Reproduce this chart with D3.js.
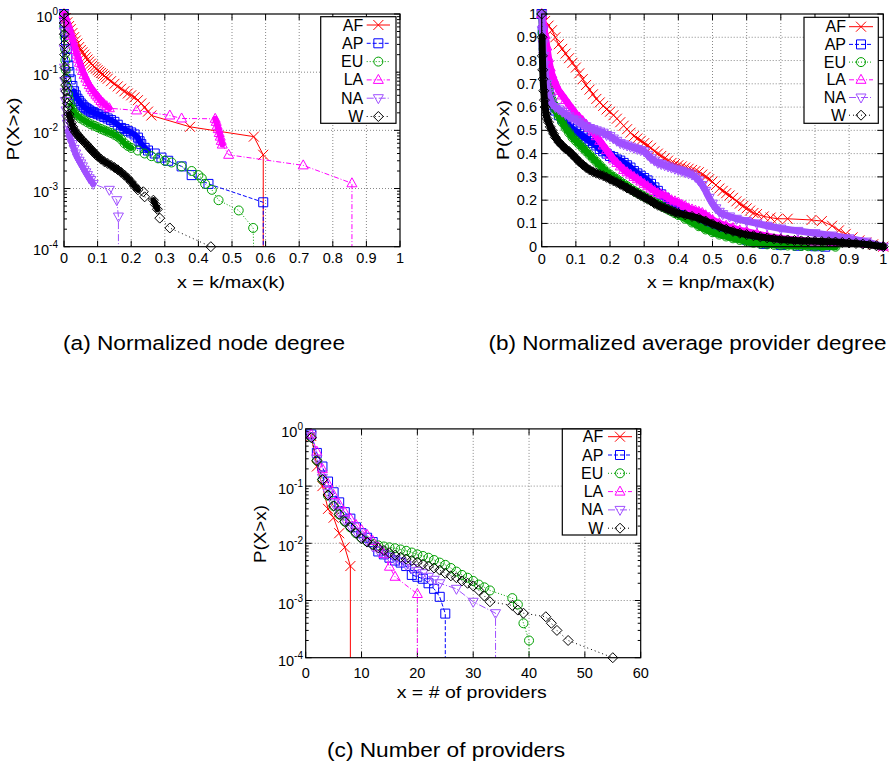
<!DOCTYPE html>
<html>
<head>
<meta charset="utf-8">
<script src="https://cdn.jsdelivr.net/npm/d3@7"></script>
<style>
  body { margin: 0; background: #fff; }
  text { font-family: "Liberation Sans", Arial, Helvetica, sans-serif; fill: #000; }
</style>
</head>
<body>
<script>
// ---- data ----
var regions = ["AF", "AP", "EU", "LA", "NA", "W"];

// (a) normalized node degree, x = k/max(k), P(X>x); 0 = curve drops off the log axis
var degAF = [[0,1],[0.005,0.85],[0.01,0.72],[0.015,0.62],[0.02,0.55],[0.025,0.47],[0.03,0.4],[0.035,0.35],[0.04,0.31],[0.045,0.27],[0.05,0.24],[0.055,0.22],[0.06,0.2],[0.065,0.18],[0.07,0.165],[0.075,0.152],[0.08,0.14],[0.085,0.13],[0.09,0.122],[0.095,0.115],[0.1,0.108],[0.105,0.102],[0.11,0.097],[0.115,0.092],[0.12,0.087],[0.125,0.082],[0.13,0.077],[0.14,0.07],[0.15,0.063],[0.16,0.057],[0.17,0.052],[0.18,0.047],[0.19,0.043],[0.2,0.04],[0.21,0.037],[0.22,0.033],[0.23,0.029],[0.24,0.025],[0.25,0.021],[0.26,0.018],[0.375,0.0115],[0.565,0.0078],[0.593,0.0038],[0.593,0]];
var degAP = [[0,1],[0.002,0.7],[0.004,0.5],[0.006,0.35],[0.008,0.25],[0.01,0.18],[0.013,0.13],[0.016,0.1],[0.02,0.075],[0.025,0.058],[0.03,0.047],[0.035,0.04],[0.04,0.035],[0.045,0.032],[0.05,0.029],[0.055,0.027],[0.06,0.025],[0.065,0.024],[0.07,0.023],[0.075,0.022],[0.08,0.021],[0.085,0.0205],[0.09,0.02],[0.1,0.019],[0.11,0.018],[0.12,0.017],[0.13,0.016],[0.14,0.015],[0.15,0.014],[0.16,0.0125],[0.17,0.011],[0.18,0.0105],[0.19,0.0098],[0.2,0.0092],[0.21,0.0085],[0.22,0.0075],[0.225,0.0065],[0.23,0.0058],[0.24,0.005],[0.25,0.0045],[0.27,0.004],[0.29,0.0034],[0.31,0.003],[0.35,0.0024],[0.38,0.0017],[0.43,0.0012],[0.593,0.00058],[0.593,0]];
var degEU = [[0,1],[0.001,0.6],[0.002,0.4],[0.003,0.25],[0.004,0.16],[0.005,0.11],[0.007,0.075],[0.009,0.055],[0.012,0.042],[0.015,0.034],[0.02,0.027],[0.025,0.023],[0.03,0.02],[0.04,0.018],[0.05,0.016],[0.06,0.0148],[0.07,0.0137],[0.08,0.0127],[0.09,0.012],[0.1,0.0113],[0.11,0.0106],[0.12,0.01],[0.13,0.0095],[0.14,0.009],[0.15,0.0084],[0.16,0.0078],[0.17,0.007],[0.18,0.006],[0.19,0.0054],[0.2,0.005],[0.22,0.0045],[0.24,0.004],[0.26,0.0036],[0.28,0.0033],[0.3,0.003],[0.32,0.0028],[0.35,0.0024],[0.38,0.002],[0.4,0.0017],[0.41,0.0015],[0.42,0.0012],[0.44,0.00095],[0.46,0.00063],[0.52,0.00042],[0.563,0.00021],[0.567,0]];
var degLA = [[0,1],[0.003,0.9],[0.006,0.8],[0.01,0.7],[0.014,0.6],[0.018,0.5],[0.022,0.42],[0.026,0.35],[0.03,0.29],[0.034,0.24],[0.038,0.2],[0.042,0.17],[0.046,0.145],[0.05,0.125],[0.055,0.105],[0.06,0.09],[0.065,0.078],[0.07,0.068],[0.075,0.06],[0.08,0.054],[0.085,0.049],[0.09,0.045],[0.095,0.041],[0.1,0.038],[0.105,0.035],[0.11,0.032],[0.115,0.03],[0.12,0.028],[0.127,0.026],[0.135,0.024],[0.216,0.022],[0.315,0.018],[0.35,0.016],[0.45,0.0158],[0.453,0.014],[0.456,0.012],[0.459,0.0105],[0.462,0.009],[0.465,0.0078],[0.468,0.0066],[0.471,0.0057],[0.49,0.0038],[0.712,0.0025],[0.857,0.00123],[0.857,0]];
var degNA = [[0,1],[0.0005,0.5],[0.001,0.25],[0.0015,0.12],[0.002,0.07],[0.003,0.045],[0.004,0.032],[0.006,0.022],[0.008,0.016],[0.01,0.013],[0.013,0.01],[0.016,0.0085],[0.02,0.007],[0.025,0.0058],[0.03,0.0048],[0.035,0.004],[0.04,0.0034],[0.045,0.003],[0.05,0.0027],[0.055,0.0024],[0.06,0.0021],[0.065,0.0019],[0.07,0.0017],[0.075,0.0015],[0.08,0.0014],[0.087,0.0012],[0.135,0.00095],[0.157,0.00063],[0.162,0.00033],[0.162,0]];
var degW = [[0,1],[0.0005,0.7],[0.001,0.45],[0.0015,0.3],[0.002,0.2],[0.003,0.12],[0.004,0.08],[0.005,0.06],[0.006,0.047],[0.008,0.036],[0.01,0.029],[0.012,0.024],[0.015,0.019],[0.018,0.016],[0.022,0.0135],[0.026,0.0115],[0.03,0.0102],[0.035,0.0092],[0.04,0.0084],[0.045,0.0078],[0.05,0.0072],[0.055,0.0067],[0.06,0.0063],[0.065,0.0059],[0.07,0.0055],[0.075,0.0051],[0.08,0.0047],[0.085,0.0044],[0.09,0.0041],[0.095,0.0038],[0.1,0.0036],[0.11,0.0032],[0.12,0.0029],[0.13,0.0027],[0.14,0.0025],[0.15,0.0023],[0.16,0.0021],[0.17,0.0019],[0.18,0.0017],[0.19,0.0015],[0.2,0.0013],[0.21,0.0011],[0.22,0.00095],[0.236,0.00088],[0.24,0.00072],[0.266,0.00063],[0.272,0.00053],[0.278,0.00044],[0.285,0.00031],[0.315,0.00021],[0.437,0.0001]];

// (b) normalized average provider degree, x = knp/max(k), linear P(X>x)
var knpAF = [[0,1],[0.01,0.97],[0.02,0.95],[0.03,0.93],[0.04,0.9],[0.05,0.87],[0.06,0.85],[0.07,0.83],[0.08,0.81],[0.09,0.79],[0.1,0.77],[0.11,0.745],[0.12,0.72],[0.13,0.695],[0.14,0.675],[0.15,0.655],[0.16,0.635],[0.17,0.62],[0.18,0.605],[0.19,0.59],[0.2,0.58],[0.21,0.565],[0.22,0.55],[0.23,0.535],[0.24,0.52],[0.25,0.505],[0.26,0.49],[0.27,0.475],[0.28,0.465],[0.29,0.455],[0.3,0.445],[0.31,0.435],[0.32,0.425],[0.33,0.41],[0.34,0.4],[0.35,0.39],[0.36,0.38],[0.37,0.37],[0.38,0.36],[0.39,0.355],[0.4,0.35],[0.41,0.345],[0.42,0.34],[0.43,0.335],[0.44,0.33],[0.45,0.325],[0.46,0.32],[0.47,0.31],[0.48,0.3],[0.49,0.29],[0.5,0.28],[0.51,0.265],[0.52,0.25],[0.53,0.24],[0.54,0.23],[0.55,0.22],[0.56,0.21],[0.57,0.195],[0.58,0.185],[0.59,0.175],[0.6,0.165],[0.61,0.155],[0.62,0.145],[0.63,0.14],[0.65,0.13],[0.67,0.125],[0.69,0.12],[0.72,0.12],[0.79,0.115],[0.82,0.11],[0.85,0.09],[0.87,0.07],[0.89,0.055],[0.91,0.04],[0.93,0.027],[0.95,0.018],[0.97,0.01],[1,0]];
var knpAP = [[0,1],[0.003,0.93],[0.006,0.86],[0.01,0.8],[0.015,0.73],[0.02,0.68],[0.025,0.64],[0.03,0.61],[0.04,0.585],[0.05,0.565],[0.06,0.55],[0.07,0.535],[0.08,0.52],[0.09,0.505],[0.1,0.495],[0.11,0.485],[0.12,0.475],[0.13,0.465],[0.14,0.455],[0.15,0.445],[0.16,0.435],[0.17,0.42],[0.18,0.41],[0.19,0.4],[0.2,0.39],[0.21,0.385],[0.22,0.375],[0.23,0.37],[0.24,0.36],[0.25,0.35],[0.26,0.34],[0.27,0.325],[0.28,0.315],[0.29,0.305],[0.3,0.295],[0.31,0.285],[0.32,0.27],[0.33,0.255],[0.34,0.24],[0.35,0.225],[0.36,0.21],[0.37,0.195],[0.38,0.18],[0.39,0.17],[0.4,0.16],[0.42,0.14],[0.44,0.12],[0.46,0.105],[0.48,0.09],[0.5,0.08],[0.52,0.07],[0.54,0.06],[0.56,0.05],[0.58,0.04],[0.6,0.03],[0.62,0.02],[0.65,0.012],[0.7,0.007],[0.75,0.004],[0.8,0.002],[0.83,0]];
var knpEU = [[0,1],[0.003,0.92],[0.006,0.85],[0.01,0.78],[0.015,0.72],[0.02,0.68],[0.025,0.65],[0.03,0.63],[0.035,0.61],[0.04,0.59],[0.05,0.56],[0.06,0.535],[0.07,0.51],[0.08,0.49],[0.09,0.47],[0.1,0.455],[0.11,0.44],[0.12,0.425],[0.13,0.41],[0.14,0.395],[0.15,0.38],[0.16,0.365],[0.17,0.35],[0.18,0.335],[0.19,0.32],[0.2,0.31],[0.21,0.3],[0.22,0.29],[0.23,0.28],[0.24,0.27],[0.25,0.26],[0.26,0.25],[0.27,0.24],[0.28,0.232],[0.29,0.224],[0.3,0.216],[0.31,0.208],[0.32,0.2],[0.33,0.192],[0.34,0.184],[0.35,0.176],[0.36,0.168],[0.37,0.16],[0.38,0.152],[0.39,0.144],[0.4,0.136],[0.42,0.12],[0.44,0.104],[0.46,0.088],[0.48,0.074],[0.5,0.062],[0.52,0.052],[0.54,0.044],[0.56,0.036],[0.58,0.029],[0.6,0.022],[0.62,0.017],[0.64,0.013],[0.66,0.01],[0.68,0.008],[0.7,0.006],[0.72,0.005],[0.74,0.004],[0.76,0.003],[0.78,0.002],[0.8,0.0015],[0.82,0.001],[0.86,0]];
var knpLA = [[0,1],[0.005,0.96],[0.01,0.91],[0.015,0.86],[0.02,0.81],[0.025,0.77],[0.03,0.74],[0.035,0.72],[0.04,0.7],[0.05,0.67],[0.06,0.65],[0.07,0.63],[0.08,0.61],[0.09,0.59],[0.1,0.57],[0.11,0.555],[0.12,0.54],[0.13,0.525],[0.14,0.51],[0.15,0.495],[0.16,0.475],[0.17,0.455],[0.18,0.435],[0.19,0.415],[0.2,0.395],[0.21,0.375],[0.22,0.36],[0.23,0.345],[0.24,0.33],[0.25,0.32],[0.26,0.31],[0.27,0.3],[0.28,0.29],[0.29,0.28],[0.3,0.27],[0.31,0.26],[0.32,0.25],[0.33,0.24],[0.34,0.23],[0.35,0.225],[0.36,0.22],[0.37,0.21],[0.38,0.2],[0.39,0.195],[0.4,0.19],[0.41,0.18],[0.42,0.175],[0.43,0.165],[0.44,0.16],[0.45,0.155],[0.46,0.15],[0.47,0.145],[0.48,0.135],[0.49,0.125],[0.5,0.115],[0.52,0.1],[0.54,0.09],[0.56,0.08],[0.58,0.07],[0.6,0.065],[0.63,0.055],[0.66,0.045],[0.7,0.035],[0.75,0.028],[0.8,0.022],[0.85,0.02],[0.9,0.018],[0.95,0.012],[1,0]];
var knpNA = [[0,1],[0.002,0.93],[0.004,0.87],[0.006,0.82],[0.008,0.78],[0.01,0.75],[0.015,0.7],[0.02,0.66],[0.025,0.635],[0.03,0.615],[0.04,0.6],[0.05,0.59],[0.06,0.58],[0.07,0.57],[0.08,0.56],[0.09,0.55],[0.1,0.545],[0.11,0.535],[0.12,0.525],[0.13,0.517],[0.14,0.51],[0.15,0.505],[0.16,0.5],[0.17,0.495],[0.18,0.49],[0.19,0.48],[0.2,0.475],[0.21,0.465],[0.22,0.455],[0.23,0.445],[0.24,0.44],[0.25,0.435],[0.26,0.43],[0.27,0.425],[0.28,0.42],[0.29,0.415],[0.3,0.41],[0.31,0.395],[0.32,0.38],[0.33,0.37],[0.34,0.36],[0.35,0.355],[0.36,0.35],[0.37,0.345],[0.38,0.34],[0.39,0.335],[0.4,0.33],[0.41,0.325],[0.42,0.32],[0.43,0.315],[0.44,0.31],[0.45,0.3],[0.46,0.285],[0.47,0.265],[0.48,0.24],[0.49,0.21],[0.5,0.185],[0.51,0.165],[0.52,0.15],[0.53,0.14],[0.55,0.13],[0.57,0.12],[0.6,0.11],[0.63,0.1],[0.66,0.09],[0.7,0.078],[0.75,0.068],[0.8,0.058],[0.85,0.048],[0.9,0.036],[0.95,0.022],[1,0]];
var knpW = [[0,1],[0.001,0.9],[0.002,0.82],[0.003,0.76],[0.004,0.72],[0.006,0.67],[0.008,0.63],[0.01,0.6],[0.013,0.57],[0.016,0.55],[0.02,0.535],[0.025,0.515],[0.03,0.5],[0.035,0.485],[0.04,0.47],[0.05,0.45],[0.06,0.435],[0.07,0.42],[0.08,0.41],[0.09,0.395],[0.1,0.38],[0.11,0.365],[0.12,0.352],[0.13,0.34],[0.14,0.33],[0.15,0.322],[0.16,0.316],[0.17,0.31],[0.18,0.305],[0.19,0.298],[0.2,0.29],[0.21,0.283],[0.22,0.276],[0.23,0.268],[0.24,0.26],[0.25,0.252],[0.26,0.244],[0.27,0.236],[0.28,0.228],[0.29,0.22],[0.3,0.212],[0.31,0.204],[0.32,0.196],[0.33,0.186],[0.34,0.178],[0.35,0.172],[0.36,0.166],[0.37,0.16],[0.38,0.154],[0.39,0.148],[0.4,0.144],[0.42,0.137],[0.44,0.13],[0.46,0.122],[0.48,0.11],[0.5,0.098],[0.52,0.086],[0.54,0.075],[0.56,0.066],[0.58,0.058],[0.6,0.052],[0.62,0.047],[0.64,0.042],[0.66,0.038],[0.68,0.034],[0.7,0.031],[0.72,0.029],[0.74,0.027],[0.76,0.025],[0.78,0.024],[0.8,0.023],[0.82,0.022],[0.84,0.021],[0.86,0.02],[0.88,0.018],[0.9,0.016],[0.92,0.014],[0.94,0.011],[0.96,0.008],[0.98,0.004],[1,0]];

// (c) number of providers, P(X>x)
var provAF = [[1,0.75],[2,0.22],[3,0.1],[4,0.04],[5,0.028],[6,0.015],[7,0.0085],[8,0.004],[8,0]];
var provAP = [[1,0.8],[2,0.38],[3,0.22],[4,0.12],[5,0.078],[6,0.052],[7,0.035],[8,0.027],[9,0.019],[10,0.015],[11,0.0125],[12,0.0105],[13,0.0072],[14,0.0064],[15,0.0056],[16,0.005],[17,0.0046],[18,0.004],[19,0.0028],[20,0.0026],[21,0.0024],[22,0.002],[23,0.0016],[24,0.00116],[25,0.00059],[25,0]];
var provEU = [[1,0.72],[2,0.28],[3,0.13],[4,0.068],[5,0.045],[6,0.032],[7,0.024],[8,0.019],[9,0.015],[10,0.0125],[11,0.0108],[12,0.0098],[13,0.0092],[14,0.0088],[15,0.0085],[16,0.0082],[17,0.0078],[18,0.0074],[19,0.0069],[20,0.0064],[21,0.006],[22,0.0056],[23,0.0051],[24,0.0046],[25,0.0042],[26,0.0037],[27,0.0032],[28,0.0028],[29,0.0025],[30,0.0022],[31,0.0019],[32,0.0017],[33,0.0015],[37,0.0011],[38,0.00085],[39,0.0004],[40,0.0002],[40,0]];
var provLA = [[1,0.8],[2,0.4],[3,0.2],[4,0.11],[5,0.07],[6,0.048],[7,0.035],[8,0.027],[9,0.021],[10,0.017],[11,0.014],[12,0.011],[13,0.0085],[14,0.0065],[15,0.0039],[16,0.0026],[20,0.0013],[20,0]];
var provNA = [[1,0.75],[2,0.3],[3,0.14],[4,0.075],[5,0.05],[6,0.035],[7,0.026],[8,0.02],[9,0.016],[10,0.013],[11,0.011],[12,0.0088],[13,0.0075],[14,0.0065],[15,0.0058],[16,0.0052],[17,0.0047],[18,0.0042],[19,0.0037],[20,0.0033],[21,0.003],[22,0.0026],[23,0.0023],[24,0.002],[27,0.0016],[30,0.00095],[34,0.0006],[34,0]];
var provW = [[1,0.7],[2,0.28],[3,0.13],[4,0.07],[5,0.045],[6,0.032],[7,0.024],[8,0.019],[9,0.015],[10,0.012],[11,0.0105],[12,0.0093],[13,0.0083],[14,0.0075],[15,0.0068],[16,0.0062],[17,0.0057],[18,0.0053],[19,0.005],[20,0.0047],[21,0.0043],[22,0.004],[23,0.0037],[24,0.0034],[25,0.003],[26,0.0027],[27,0.0025],[28,0.0022],[29,0.002],[30,0.0018],[31,0.0015],[32,0.0012],[33,0.00095],[37,0.00082],[38,0.00068],[39,0.0006],[43,0.00052],[44,0.0004],[45,0.0003],[47,0.0002],[55,0.0001]];

var normTicks = [0, 0.1, 0.2, 0.3, 0.4, 0.5, 0.6, 0.7, 0.8, 0.9, 1];
var provTicks = [0, 10, 20, 30, 40, 50, 60];
var logTicks = [1, 0.1, 0.01, 0.001, 0.0001];
var linTicks = [0, 0.1, 0.2, 0.3, 0.4, 0.5, 0.6, 0.7, 0.8, 0.9, 1];

// ---- styles ----
var colors = { AF: "#ff0000", AP: "#0000ff", EU: "#00a000", LA: "#ff00ff", NA: "#a050ff", W: "#000000" };
var dashes = { AF: null, AP: "4,2", EU: "1,2", LA: "5,2,1,2", NA: "7,2,1,2", W: "1,3" };
var shapes = { AF: "cross", AP: "square", EU: "circle", LA: "tri", NA: "itri", W: "diamond" };

function markerPath(type) {
    switch (type) {
        case "cross": return "M-5,-5L5,5M-5,5L5,-5";
        case "square": return "M-4.5,-4.5H4.5V4.5H-4.5Z";
        case "circle": return "M-4.5,0A4.5,4.5 0 1,0 4.5,0A4.5,4.5 0 1,0 -4.5,0Z";
        case "tri": return "M0,-5.5L5,3.5L-5,3.5Z";
        case "itri": return "M0,5.5L5,-3.5L-5,-3.5Z";
        case "diamond": return "M0,-5L5,0L0,5L-5,0Z";
    }
}

var svg = d3.select("body").append("svg")
    .attr("width", 890)
    .attr("height", 770);

svg.append("rect").attr("width", 890).attr("height", 770).attr("fill", "#fff");

var panels = [
    {
        key: "a", left: 64, right: 400, top: 14, bottom: 246.7,
        xDomain: [0, 1], xTicks: normTicks, log: true, bandGap: 5.5, bandWidth: 6,
        series: [degAF, degAP, degEU, degLA, degNA, degW],
        xLabel: "x = k/max(k)", xLabelX: 231, xLabelY: 288, xLabelLen: 108,
        yLabelX: 13, yLabelY: 129, yLabelLen: 63,
        xTickY: 263, yTickRight: 58,
        legend: { x1: 320.7, y1: 16.7, x2: 396, y2: 123.3, textRight: 363.3, l1: 366.7, l2: 390, row0: 25, step: 18.3 },
        caption: "(a) Normalized node degree", capX: 204, capY: 350, capLen: 282
    },
    {
        key: "b", left: 541.7, right: 883.3, top: 14, bottom: 246.7,
        xDomain: [0, 1], xTicks: normTicks, log: false, bandGap: 22, bandWidth: 7,
        series: [knpAF, knpAP, knpEU, knpLA, knpNA, knpW],
        xLabel: "x = knp/max(k)", xLabelX: 711, xLabelY: 288, xLabelLen: 128,
        yLabelX: 502.5, yLabelY: 130, yLabelLen: 60,
        xTickY: 264, yTickRight: 537,
        legend: { x1: 804, y1: 17.3, x2: 878.3, y2: 123.3, textRight: 846, l1: 849, l2: 873, row0: 26.7, step: 17.7 },
        caption: "(b) Normalized average provider degree", capX: 687.5, capY: 350, capLen: 398
    },
    {
        key: "c", left: 305.7, right: 640.7, top: 428.9, bottom: 657.7,
        xDomain: [0, 60], xTicks: provTicks, log: true, bandGap: 0, bandWidth: 0,
        series: [provAF, provAP, provEU, provLA, provNA, provW],
        xLabel: "x = # of providers", xLabelX: 471.7, xLabelY: 698, xLabelLen: 150,
        yLabelX: 260, yLabelY: 534, yLabelLen: 58,
        xTickY: 678, yTickRight: 303,
        legend: { x1: 562.3, y1: 429, x2: 636.7, y2: 535, textRight: 603.3, l1: 608, l2: 632, row0: 436.7, step: 18.3 },
        caption: "(c) Number of providers", capX: 446, capY: 757, capLen: 238
    }
];

panels.forEach(drawPanel);

function drawPanel(p) {
    var g = svg.append("g").attr("class", "panel-" + p.key);

    var x = d3.scaleLinear().domain(p.xDomain).range([p.left, p.right]);
    var y = p.log
        ? d3.scaleLog().domain([1e-4, 1]).range([p.bottom, p.top])
        : d3.scaleLinear().domain([0, 1]).range([p.bottom, p.top]);
    var yTicks = p.log ? logTicks : linTicks;

    // grid
    g.append("g").selectAll("line")
        .data(p.xTicks.slice(1, -1))
        .enter().append("line")
        .attr("x1", function (d) { return x(d); })
        .attr("x2", function (d) { return x(d); })
        .attr("y1", p.top).attr("y2", p.bottom)
        .attr("stroke", "#888").attr("stroke-width", 1).attr("stroke-dasharray", "1,2");
    g.append("g").selectAll("line")
        .data(yTicks.filter(function (d) { return y(d) > p.top + 1 && y(d) < p.bottom - 1; }))
        .enter().append("line")
        .attr("y1", function (d) { return y(d); })
        .attr("y2", function (d) { return y(d); })
        .attr("x1", p.left).attr("x2", p.right)
        .attr("stroke", "#888").attr("stroke-width", 1).attr("stroke-dasharray", "1,2");

    // ticks (inward, mirrored)
    var tk = g.append("g").attr("stroke", "#000").attr("stroke-width", 1);
    p.xTicks.forEach(function (d) {
        tk.append("line").attr("x1", x(d)).attr("x2", x(d)).attr("y1", p.bottom).attr("y2", p.bottom - 6);
        tk.append("line").attr("x1", x(d)).attr("x2", x(d)).attr("y1", p.top).attr("y2", p.top + 6);
    });
    yTicks.forEach(function (d) {
        tk.append("line").attr("x1", p.left).attr("x2", p.left + 6).attr("y1", y(d)).attr("y2", y(d));
        tk.append("line").attr("x1", p.right).attr("x2", p.right - 6).attr("y1", y(d)).attr("y2", y(d));
    });
    if (p.log) {
        var minor = [];
        [1e-4, 1e-3, 1e-2, 1e-1].forEach(function (dec) {
            for (var m = 2; m <= 9; m++) minor.push(dec * m);
        });
        minor.forEach(function (d) {
            tk.append("line").attr("x1", p.left).attr("x2", p.left + 3).attr("y1", y(d)).attr("y2", y(d));
            tk.append("line").attr("x1", p.right).attr("x2", p.right - 3).attr("y1", y(d)).attr("y2", y(d));
        });
    }

    // tick labels
    g.append("g").selectAll("text")
        .data(p.xTicks)
        .enter().append("text")
        .attr("x", function (d) { return x(d); })
        .attr("y", p.xTickY)
        .attr("text-anchor", "middle")
        .attr("font-size", 14.5)
        .text(function (d) { return String(d); });

    var yl = g.append("g").selectAll("text")
        .data(yTicks)
        .enter().append("text")
        .attr("x", p.yTickRight)
        .attr("text-anchor", "end")
        .attr("font-size", 14.5);
    if (p.log) {
        yl.attr("y", function (d) { return y(d) + 8; })
            .each(function (d) {
                var t = d3.select(this);
                t.append("tspan").text("10");
                t.append("tspan").attr("dy", -7).attr("font-size", 10)
                    .text(String(Math.round(Math.log10(d))));
            });
    } else {
        yl.attr("y", function (d) { return y(d) + 5; })
            .text(function (d) { return String(d); });
    }

    // axis labels
    g.append("text")
        .attr("x", p.xLabelX).attr("y", p.xLabelY)
        .attr("text-anchor", "middle").attr("font-size", 17)
        .attr("textLength", p.xLabelLen).attr("lengthAdjust", "spacingAndGlyphs")
        .text(p.xLabel);
    g.append("text")
        .attr("transform", "translate(" + (p.yLabelX + 6) + "," + p.yLabelY + ") rotate(-90)")
        .attr("text-anchor", "middle").attr("font-size", 17)
        .attr("textLength", p.yLabelLen).attr("lengthAdjust", "spacingAndGlyphs")
        .text("P(X>x)");

    // data
    var clipId = "clip-" + p.key;
    svg.append("clipPath").attr("id", clipId)
        .append("rect")
        .attr("x", p.left).attr("y", p.top - 1)
        .attr("width", p.right - p.left).attr("height", p.bottom - p.top + 1);

    function yPos(v) {
        if (p.log && v <= 0) return p.bottom + 40;
        return y(v);
    }

    var line = d3.line()
        .x(function (d) { return x(d[0]); })
        .y(function (d) { return yPos(d[1]); });

    p.series.forEach(function (data, i) {
        var r = regions[i];
        var sg = g.append("g").attr("class", "series-" + r);
        var pts = data.filter(function (d) { return !(p.log && d[1] <= 0); });

        // where the measured points sit so close that the markers fuse, gnuplot
        // shows a solid band: draw it under the markers
        if (p.bandGap > 0 && r !== "AF") {
            var runs = [], cur = [pts[0]];
            for (var k = 1; k < pts.length; k++) {
                var a = pts[k - 1], b = pts[k];
                var dist = Math.hypot(x(b[0]) - x(a[0]), y(b[1]) - y(a[1]));
                if (dist < p.bandGap) cur.push(b);
                else { if (cur.length > 2) runs.push(cur); cur = [b]; }
            }
            if (cur.length > 2) runs.push(cur);
            sg.selectAll("path.band")
                .data(runs)
                .enter().append("path")
                .attr("class", "band")
                .attr("d", line)
                .attr("fill", "none")
                .attr("stroke", colors[r])
                .attr("stroke-width", p.bandWidth)
                .attr("stroke-linejoin", "round")
                .attr("stroke-linecap", "round");
        }

        sg.append("path")
            .datum(data)
            .attr("clip-path", "url(#" + clipId + ")")
            .attr("d", line)
            .attr("fill", "none")
            .attr("stroke", colors[r])
            .attr("stroke-width", 1)
            .attr("stroke-dasharray", dashes[r]);
        sg.selectAll("path.pt")
            .data(pts)
            .enter().append("path")
            .attr("class", "pt")
            .attr("transform", function (d) { return "translate(" + x(d[0]) + "," + y(d[1]) + ")"; })
            .attr("d", markerPath(shapes[r]))
            .attr("fill", "none")
            .attr("stroke", colors[r])
            .attr("stroke-width", 1);
    });

    // frame
    g.append("rect")
        .attr("x", p.left).attr("y", p.top)
        .attr("width", p.right - p.left).attr("height", p.bottom - p.top)
        .attr("fill", "none").attr("stroke", "#000").attr("stroke-width", 1.2);

    // legend
    var L = p.legend;
    var lg = g.append("g").attr("class", "legend");
    lg.append("rect")
        .attr("x", L.x1).attr("y", L.y1)
        .attr("width", L.x2 - L.x1).attr("height", L.y2 - L.y1)
        .attr("fill", "#fff").attr("stroke", "#000").attr("stroke-width", 1.2);
    regions.forEach(function (r, i) {
        var ry = L.row0 + i * L.step;
        lg.append("text")
            .attr("x", L.textRight).attr("y", ry + 5.5)
            .attr("text-anchor", "end").attr("font-size", 16)
            .text(r);
        lg.append("line")
            .attr("x1", L.l1).attr("x2", L.l2).attr("y1", ry).attr("y2", ry)
            .attr("stroke", colors[r]).attr("stroke-width", 1)
            .attr("stroke-dasharray", dashes[r]);
        lg.append("path")
            .attr("transform", "translate(" + ((L.l1 + L.l2) / 2) + "," + ry + ")")
            .attr("d", markerPath(shapes[r]))
            .attr("fill", "none").attr("stroke", colors[r]).attr("stroke-width", 1);
    });

    // caption
    svg.append("text")
        .attr("x", p.capX).attr("y", p.capY)
        .attr("text-anchor", "middle").attr("font-size", 20.5)
        .attr("textLength", p.capLen).attr("lengthAdjust", "spacingAndGlyphs")
        .text(p.caption);
}
</script>
</body>
</html>
